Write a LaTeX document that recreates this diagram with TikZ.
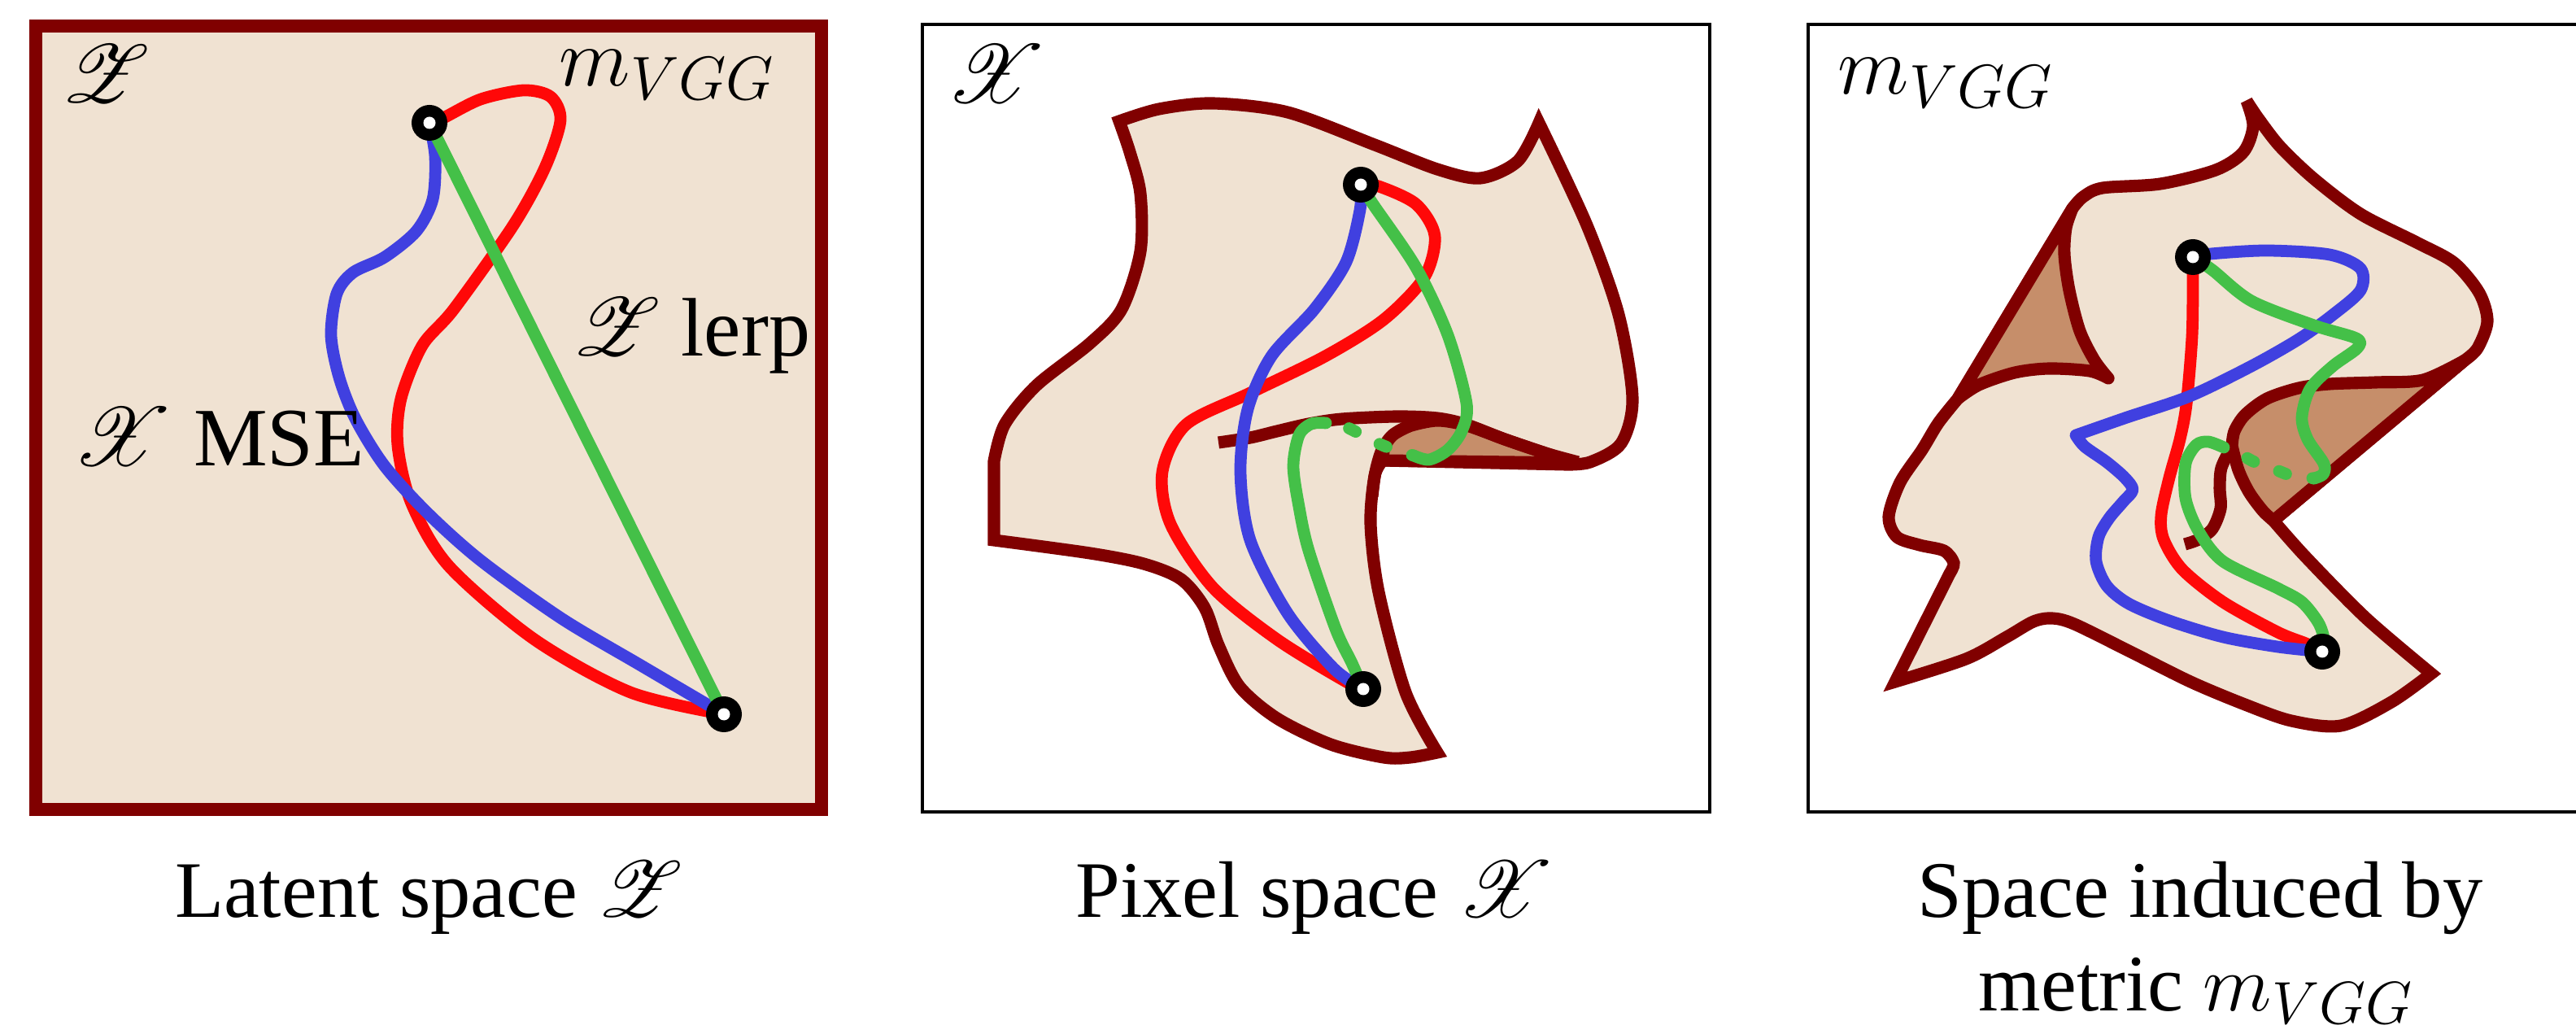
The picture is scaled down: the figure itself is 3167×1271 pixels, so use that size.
\documentclass[tikz,border=0pt]{standalone}
\usepackage{fontspec}
\setmainfont{Liberation Serif}
\usepackage{mathrsfs}
\DeclareFontShape{OML}{cmm}{m}{it}{<-6>cmmi5<6-7>cmmi6<7-8>cmmi7<8-9>cmmi8<9-10>cmmi9<10-12>cmmi10<12->cmmi12}{}
\DeclareFontShape{OMS}{cmsy}{m}{n}{<-6>cmsy5<6-7>cmsy6<7-8>cmsy7<8-9>cmsy8<9-10>cmsy9<10->cmsy10}{}
\DeclareFontFamily{U}{rsfs}{\skewchar\font127 }
\DeclareFontShape{U}{rsfs}{m}{n}{<-6> rsfs5 <6-8> rsfs7 <8-> rsfs10}{}
\DeclareMathSizes{29}{29}{21.5}{15}
\DeclareMathSizes{28}{28}{21}{15}
\definecolor{maroonc}{RGB}{128,0,0}
\definecolor{beige}{RGB}{240,226,210}
\definecolor{brownfold}{RGB}{198,142,106}
\definecolor{curvered}{RGB}{255,8,8}
\definecolor{curveblue}{RGB}{64,64,224}
\definecolor{curvegreen}{RGB}{68,192,72}
\begin{document}
\begin{tikzpicture}[x=0.01cm,y=-0.01cm,
  outl/.style={draw=maroonc,line width=4.3pt,miter limit=3},
  sheet/.style={outl,fill=beige},
  foldst/.style={draw=maroonc,line width=4.3pt,line join=round,fill=brownfold},
  curvest/.style={line width=4.2pt,line cap=round,line join=round},
  redc/.style={curvest,draw=curvered},
  bluec/.style={curvest,draw=curveblue},
  greenc/.style={curvest,draw=curvegreen},
  dashpat/.style={dash pattern=on 2.6pt off 9.4pt,dash phase=2pt},
  dotst/.style={circle,fill=black,minimum size=0.44cm,inner sep=0pt,
    path picture={\fill[white] (path picture bounding box.center) circle (0.075cm);}},
  lab/.style={inner sep=0pt,font=\fontsize{29}{35}\selectfont},
  captxt/.style={inner sep=0pt,font=\fontsize{28}{33}\selectfont}]
\useasboundingbox (0,0) rectangle (3167,1271);

% ---------------- Panel 1 ----------------
\draw[maroonc,line width=4.3pt,fill=beige] (44,32) rectangle (1010,995);
\coordinate (p1a) at (528,151);
\coordinate (p1b) at (890,878);
\draw[redc] plot[smooth] coordinates {(p1a) (545,145) (591,122) (644,111) (677,119) (689,148) (670,206) (631,277) (558,380) (519,425) (493,490) (489,548) (506,619) (552,696) (657,786) (775,851) (p1b)};
\draw[bluec] plot[smooth] coordinates {(p1a) (535,193) (532,245) (512,284) (473,316) (434,335) (414,361) (407,412) (417,464) (437,515) (473,573) (526,631) (591,689) (690,760) (788,818) (p1b)};
\draw[greenc] (p1a) -- (p1b);
\node[dotst] (d1a) at (p1a) {};
\node[dotst] (d1b) at (p1b) {};
\node[lab,anchor=base west] (z1) at (75,127) {$\mathscr{Z}$};
\node[lab,anchor=base west] (m1) at (687,106) {$m_{VGG}$};
\node[lab,anchor=base west] (xmse) at (89,573) {$\mathscr{X}$ MSE};
\node[lab,anchor=base west] (zlerp) at (703,438) {$\mathscr{Z}$ lerp};

% ---------------- Panel 2 ----------------
\draw[black,line width=1pt] (1134,30) rectangle (2102,998);
\filldraw[sheet] (1376,149)
 -- plot[smooth] coordinates {(1376,149) (1425,134) (1491,127) (1583,138) (1690,178) (1767,208) (1820,219) (1866,198) (1892,151)}
 -- plot[smooth] coordinates {(1892,151) (1951,277) (1990,387) (2007,490) (1993,545) (1955,568) (1925,571)}
 -- (1700,566)
 -- plot[smooth] coordinates {(1700,566) (1690,585) (1685,644) (1695,728) (1728,851) (1767,925)}
 -- plot[smooth] coordinates {(1767,925) (1734,931) (1701,931) (1636,915) (1570,883) (1524,844) (1498,793) (1481,747) (1452,712) (1406,693) (1340,680) (1222,664)}
 -- (1222,567)
 -- plot[smooth] coordinates {(1222,567) (1235,522) (1274,474) (1340,422) (1379,380) (1402,309) (1402,238) (1389,187) (1376,149)}
 -- cycle;
\filldraw[foldst] (1700,566) -- plot[smooth] coordinates {(1700,566) (1702,550) (1712,535) (1732,524) (1767,517) (1803,523) (1850,540) (1900,557) (1935,569)} -- cycle;
\draw[outl] plot[smooth] coordinates {(1498,544) (1537,538) (1570,530) (1609,521) (1650,515) (1717,512) (1767,514) (1803,522) (1850,540) (1900,557) (1940,568)};
\draw[outl,line join=round] plot[smooth] coordinates {(1687,610) (1691,580) (1699,553) (1712,535) (1732,524)};
\coordinate (p2a) at (1673,227);
\coordinate (p2b) at (1676,847);
\draw[redc] plot[smooth] coordinates {(p2a) (1695,229) (1741,251) (1764,290) (1751,341) (1701,393) (1629,438) (1537,483) (1458,522) (1429,580) (1439,644) (1491,722) (1570,786) (1655,838) (p2b)};
\draw[bluec] plot[smooth] coordinates {(p2a) (1672,258) (1655,322) (1616,380) (1563,438) (1534,503) (1525,580) (1537,664) (1583,754) (1640,822) (p2b)};
\draw[greenc] plot[smooth] coordinates {(p2a) (1688,251) (1741,329) (1780,412) (1803,496) (1797,530) (1780,553) (1757,565) (1738,560)};
\draw[greenc,dashpat] plot[smooth] coordinates {(1738,560) (1712,552) (1690,543) (1653,524) (1630,520)};
\draw[greenc] plot[smooth] coordinates {(1630,520) (1612,521) (1597,535) (1590,573) (1597,623) (1609,677) (1642,773) (1662,815) (p2b)};
\node[dotst] (d2a) at (p2a) {};
\node[dotst] (d2b) at (p2b) {};
\node[lab,anchor=base west] (x2) at (1163,127) {$\mathscr{X}$};

% ---------------- Panel 3 ----------------
\draw[black,line width=1pt] (2223,30) rectangle (3191,998);
\filldraw[sheet] (2762,124)
 -- plot[smooth] coordinates {(2762,124) (2770,155) (2758,187) (2724,209) (2656,226) (2585,231) (2561,242) (2548,256)}
 -- (2407,490)
 -- plot[smooth] coordinates {(2407,490) (2383,520) (2363,553) (2336,593) (2322,635) (2332,660) (2360,670) (2390,677) (2402,692) (2397,705)}
 -- (2330,838)
 -- plot[smooth] coordinates {(2330,838) (2417,810) (2467,783) (2500,764) (2523,760) (2550,767) (2617,800) (2693,838) (2760,866) (2817,886) (2878,892) (2940,863) (2989,828)}
 -- plot[smooth] coordinates {(2989,828) (2909,760) (2835,685) (2795,640)}
 -- (3030,443)
 -- plot[smooth] coordinates {(3030,443) (3046,428) (3058,395) (3048,360) (3017,323) (2971,298) (2902,263) (2845,220) (2803,180) (2776,145) (2762,124)}
 -- cycle;
\filldraw[foldst] (2548,256) -- (2407,490)
 -- plot[smooth] coordinates {(2407,490) (2433,473) (2477,458) (2519,453) (2569,456) (2592,465)}
 -- plot[smooth] coordinates {(2592,465) (2575,443) (2557,407) (2544,357) (2538,313) (2540,280) (2548,256)}
 -- cycle;
\filldraw[foldst] (2795,640) -- (3030,443)
 -- plot[smooth] coordinates {(3030,443) (2979,467) (2921,470) (2864,472) (2826,477) (2787,490) (2760,510) (2747,530) (2744,548)}
 -- plot[smooth] coordinates {(2744,548) (2752,578) (2765,605) (2782,628) (2795,640)}
 -- cycle;
\draw[outl] plot[smooth] coordinates {(2744,548) (2731,575) (2729,600) (2730,625) (2720,650) (2703,663) (2686,669)};
\coordinate (p3a) at (2696,316);
\coordinate (p3b) at (2855,801);
\draw[redc] plot[smooth] coordinates {(p3a) (2696,337) (2695,413) (2688,497) (2680,540) (2667,587) (2657,633) (2660,663) (2683,700) (2733,740) (2800,777) (2835,791) (p3b)};
\draw[bluec] plot[smooth] coordinates {(p3a) (2718,312) (2787,308) (2864,313) (2902,330) (2902,357) (2868,387) (2826,417) (2768,450) (2692,487) (2615,513) (2552,535)}
 -- plot[smooth] coordinates {(2552,535) (2563,549) (2590,568) (2612,587) (2622,602) (2610,617) (2593,637) (2580,660) (2577,690) (2590,720) (2617,742) (2667,763) (2733,783) (2800,795) (p3b)};
\draw[greenc] plot[smooth] coordinates {(p3a) (2720,332) (2768,370) (2845,400) (2897,416) (2898,428) (2868,450) (2840,478) (2830,513) (2837,540) (2857,570) (2856,583) (2845,588)};
\draw[greenc,dashpat] plot[smooth] coordinates {(2845,588) (2818,585) (2799,578) (2772,568) (2757,560) (2734,550)};
\draw[greenc] plot[smooth] coordinates {(2734,550) (2715,543) (2700,547) (2687,570) (2687,613) (2703,653) (2733,690) (2800,723) (2830,740) (2850,765) (2857,785) (p3b)};
\node[dotst] (d3a) at (p3a) {};
\node[dotst] (d3b) at (p3b) {};
\node[lab,anchor=base west] (m3) at (2259,116) {$m_{VGG}$};

% ---------------- Captions ----------------
\node[captxt,anchor=base] (c1) at (527,1127) {Latent space $\mathscr{Z}$};
\node[captxt,anchor=base] (c2) at (1617,1127) {Pixel space $\mathscr{X}$};
\node[captxt,anchor=base] (c3a) at (2705,1127) {Space induced by};
\node[captxt,anchor=base] (c3b) at (2700,1242) {metric $m_{VGG}$};
\end{tikzpicture}
\end{document}
